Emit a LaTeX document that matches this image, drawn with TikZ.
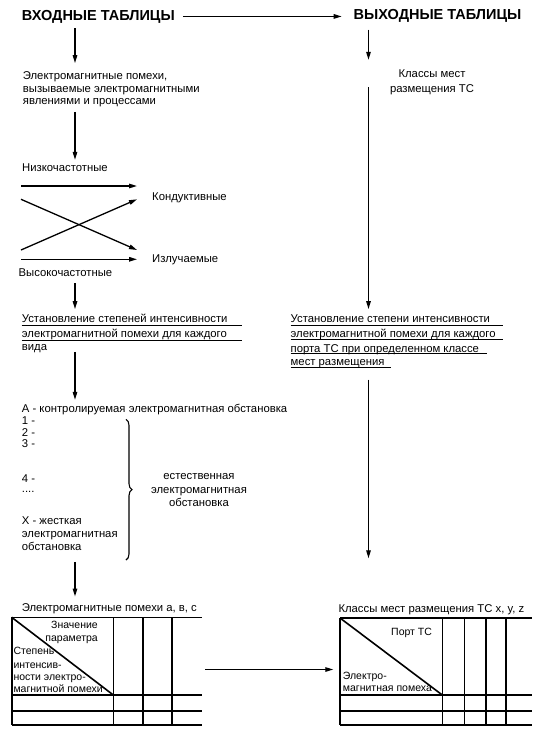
\documentclass[tikz,border=0pt]{standalone}
\usepackage{fontspec}
\setmainfont{Liberation Sans}
\usetikzlibrary{arrows.meta,decorations.pathreplacing}
\newcommand\fmain{\fontsize{11.3pt}{13pt}\selectfont}
\newcommand\fhead{\fontsize{14.5pt}{16pt}\selectfont\bfseries}
\newcommand\fsmall{\fontsize{10.5pt}{12pt}\selectfont}
\tikzset{
  txt/.style={font=\fmain, inner sep=0pt, anchor=base west, text height=8.5pt, text depth=2.5pt},
  ctxt/.style={txt, anchor=base},
  head/.style={font=\fhead, inner sep=0pt, anchor=base west, text height=10.5pt, text depth=3pt},
  stxt/.style={font=\fsmall, inner sep=0pt, anchor=base west},
  arr/.style={-{Triangle[length=8pt,width=4.5pt]}, line width=1.3pt},
  uline/.style={line width=1pt},
  tbl/.style={line width=1.6pt},
}
\begin{document}
\begin{tikzpicture}[x=1pt,y=-1pt]
\useasboundingbox (0,0) rectangle (546,736);
\fill[white] (0,0) rectangle (546,736);
% x positions of the vertical arrows
\coordinate (xl) at (75,0);
\coordinate (xr) at (368.5,0);
% headers
\node[head] (hin) at (21.7,20.2) {ВХОДНЫЕ ТАБЛИЦЫ};
\node[head] (hout) at (353.5,19.2) {ВЫХОДНЫЕ ТАБЛИЦЫ};
\draw[arr, shorten <=8pt, shorten >=11.8pt] (hin.east) -- (hin.east -| hout.west);
% left column
\node[txt] (em1) at (22.7,79.5) {Электромагнитные помехи,};
\node[txt] (em2) at (22.7,92.1) {вызываемые электромагнитными};
\node[txt] (em3) at (22.7,104.8) {явлениями и процессами};
\draw[arr, shorten <=4.8pt, shorten >=7.7pt] (hin.south -| xl) -- (em1.north -| xl);
\node[txt] (nizk) at (22,171.8) {Низкочастотные};
\draw[arr, shorten <=4.4pt, shorten >=3.3pt] (em3.south -| xl) -- (nizk.north -| xl);
\node[txt] (kond) at (152,200.5) {Кондуктивные};
\node[txt] (izl) at (152,262.1) {Излучаемые};
\node[txt] (vys) at (18.5,276.8) {Высокочастотные};
\coordinate (c1) at (21,186);
\coordinate (c2) at (137,186);
\coordinate (c3) at (21,199.3);
\coordinate (c4) at (137,250);
\coordinate (c5) at (21,250);
\coordinate (c6) at (137,199.3);
\coordinate (c7) at (21,259.3);
\coordinate (c8) at (137,259.3);
\draw[arr] (c1) -- (c2);
\draw[arr] (c3) -- (c4);
\draw[arr] (c5) -- (c6);
\draw[arr] (c7) -- (c8);
\node[txt] (ul1) at (21.7,322.1) {Установление степеней интенсивности};
\node[txt] (ul2) at (21.7,337.1) {электромагнитной помехи для каждого};
\node[txt] (ul3) at (21.7,350.5) {вида};
\draw[uline] (21.7,325) -- (241.7,325);
\draw[uline] (21.7,340) -- (241.7,340);
\draw[arr, shorten <=3.7pt, shorten >=4.3pt] (vys.south -| xl) -- (ul1.north -| xl);
\node[txt] (a0) at (21.7,412.1) {А - контролируемая электромагнитная обстановка};
\node[txt] (a1) at (21.7,424.5) {1 -};
\node[txt] (a2) at (21.7,436.1) {2 -};
\node[txt] (a3) at (21.7,447.1) {3 -};
\node[txt] (a4) at (21.7,482.1) {4 -};
\node[txt, text height=2pt, text depth=0.5pt] (a5) at (21.7,492) {....};
\node[txt] (ax1) at (21.7,524.5) {Х - жесткая};
\node[txt] (ax2) at (21.7,537.8) {электромагнитная};
\node[txt] (ax3) at (21.7,550.5) {обстановка};
\draw[arr, shorten <=-1.3pt, shorten >=3.6pt] (ul3.south -| xl) -- (a0.north -| xl);
\draw[line width=1.1pt, decorate, decoration={brace, amplitude=6pt}] (126,419.3) -- (126,560);
\node[ctxt] (n1) at (199,479.8) {естественная};
\node[ctxt] (n2) at (199,493.1) {электромагнитная};
\node[ctxt] (n3) at (199,506.5) {обстановка};
\node[txt] (tl) at (21.7,611.8) {Электромагнитные помехи а, в, с};
\draw[arr, shorten <=8.7pt, shorten >=6.6pt] (ax3.south -| xl) -- (tl.north -| xl);
% right column
\node[ctxt] (kl1) at (432,77.8) {Классы мест};
\node[ctxt] (kl2) at (432,92.1) {размещения ТС};
\draw[arr, shorten <=7.1pt, shorten >=9.3pt] (hout.south -| xr) -- (kl1.north -| xr);
\node[txt] (ur1) at (290.5,322.1) {Установление степени интенсивности};
\node[txt] (ur2) at (290.5,337.1) {электромагнитной помехи для каждого};
\node[txt] (ur3) at (290.5,352.1) {порта ТС при определенном классе};
\node[txt] (ur4) at (290.5,365.5) {мест размещения};
\draw[uline] (290.5,325) -- (502.7,325);
\draw[uline] (290.5,339.3) -- (502.7,339.3);
\draw[uline] (290.5,353.3) -- (486.7,353.3);
\draw[uline] (290.5,367.7) -- (391,367.7);
\draw[arr, shorten <=3.7pt, shorten >=4.3pt] (kl2.north -| xr) -- (ur1.north -| xr);
\node[txt] (tr) at (338.3,612.8) {Классы мест размещения ТС x, y, z};
\coordinate (rend) at (368.5,558.3);
\draw[arr, shorten <=11.3pt] (ur4.south -| xr) -- (rend);
% left table
\draw[tbl] (11.7,617.3) -- (201.7,617.3);
\draw[tbl] (11.7,617.3) -- (11.7,725);
\foreach \yy in {695,710.7,725} \draw[tbl] (11.7,\yy) -- (201.7,\yy);
\foreach \xx in {113.3,142.7,171.7} \draw[tbl] (\xx,617.3) -- (\xx,725);
\draw[tbl] (11.7,617.3) -- (113.3,695);
\node[stxt, anchor=base east] (p1) at (98,628.5) {Значение};
\node[stxt, anchor=base east] (p2) at (98,641.8) {параметра};
\node[stxt] (s1) at (13.3,654.5) {Степень};
\node[stxt] (s2) at (13.3,668.5) {интенсив-};
\node[stxt] (s3) at (13.3,680.8) {ности электро-};
\node[stxt] (s4) at (13.3,692.8) {магнитной помехи};
% right table
\draw[tbl] (340,618) -- (531.7,618);
\draw[tbl] (340,618) -- (340,725);
\foreach \yy in {695,710.7,725} \draw[tbl] (340,\yy) -- (531.7,\yy);
\foreach \xx in {442.3,464.3,485.7,505.7} \draw[tbl] (\xx,618) -- (\xx,725);
\draw[tbl] (340,618) -- (442.3,695);
\node[stxt] (pt) at (391,635.2) {Порт ТС};
\node[stxt] (e1) at (342.7,679.5) {Электро-};
\node[stxt] (e2) at (342.7,691.8) {магнитная помеха};
% arrow between tables
\coordinate (tla) at (201.7,669.5);
\coordinate (tra) at (340,669.5);
\draw[arr, shorten <=3.3pt, shorten >=6.7pt] (tla) -- (tra);
\end{tikzpicture}
\end{document}
